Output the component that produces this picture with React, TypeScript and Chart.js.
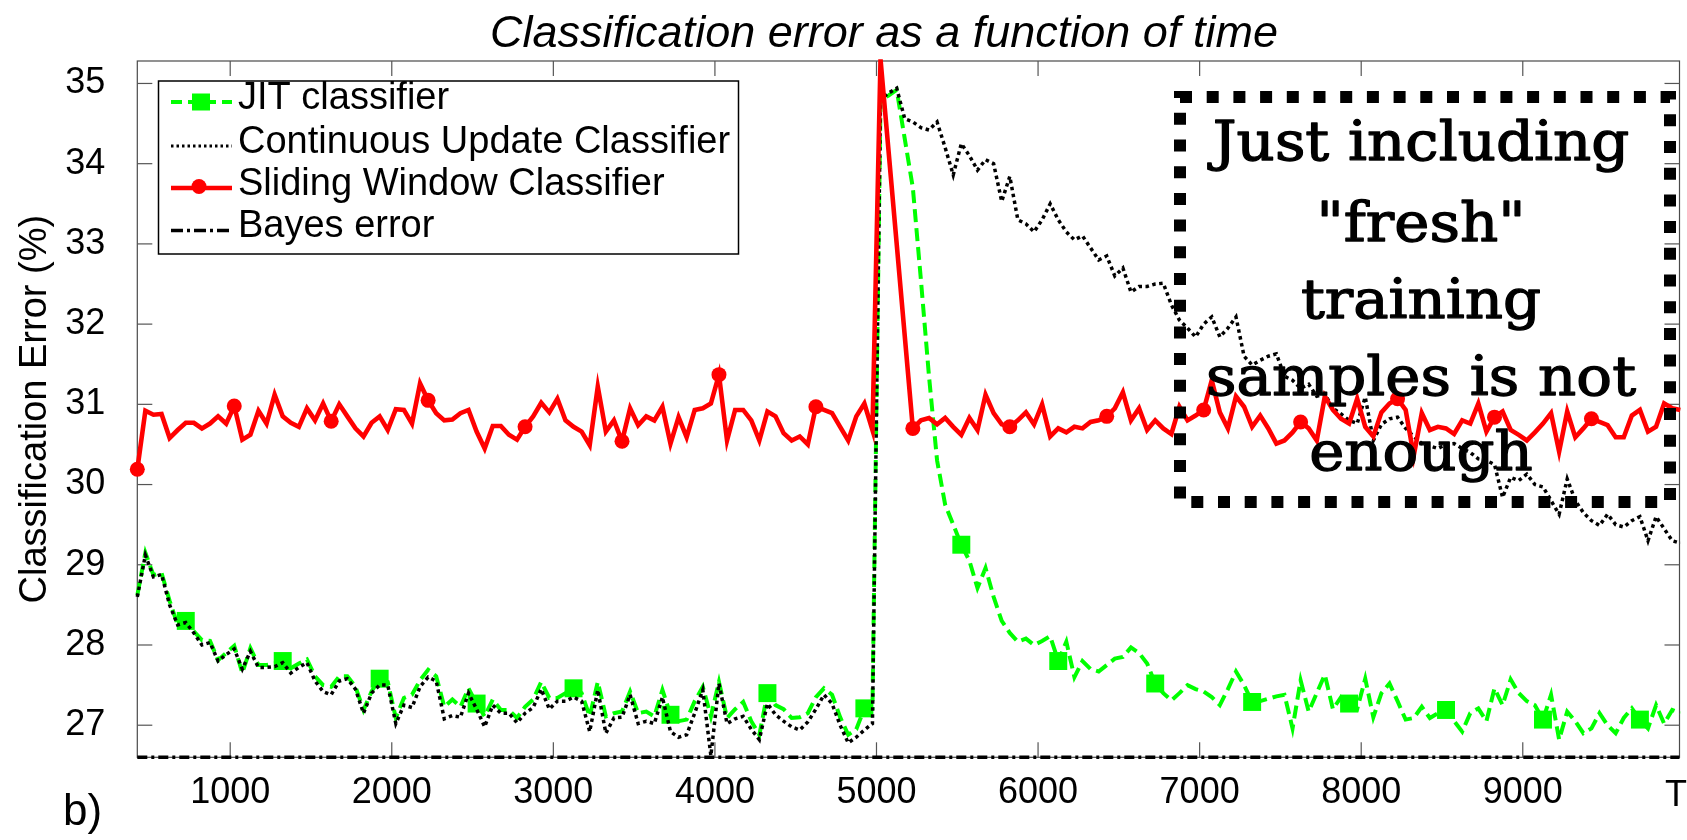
import React, { useEffect, useRef } from "react";
import { Chart, registerables } from "chart.js";

Chart.register(...registerables);

const FONT = '"Liberation Sans", Arial, Helvetica, sans-serif';
const SLAB = '"DejaVu Serif", serif';

const chartTitle = "Classification error as a function of time";
const yAxisTitle = "Classification Error (%)";
const legendLabels = ["JIT classifier", "Continuous Update Classifier", "Sliding Window Classifier", "Bayes error"];
const noteLines = ["Just including", "\"fresh\"", "training", "samples is not", "enough"];

const xTickValues = [1000, 2000, 3000, 4000, 5000, 6000, 7000, 8000, 9000];
const yTickValues = [27, 28, 29, 30, 31, 32, 33, 34, 35];

// time stamps of the samples (rows of 12 = 600 time units)
const timeSteps = [
  425, 475, 525, 575, 625, 675, 725, 775, 825, 875, 925, 975,
  1025, 1075, 1125, 1175, 1225, 1275, 1325, 1375, 1425, 1475, 1525, 1575,
  1625, 1675, 1725, 1775, 1825, 1875, 1925, 1975, 2025, 2075, 2125, 2175,
  2225, 2275, 2325, 2375, 2425, 2475, 2525, 2575, 2625, 2675, 2725, 2775,
  2825, 2875, 2925, 2975, 3025, 3075, 3125, 3175, 3225, 3275, 3325, 3375,
  3425, 3475, 3525, 3575, 3625, 3675, 3725, 3775, 3825, 3875, 3925, 3975,
  4025, 4075, 4125, 4175, 4225, 4275, 4325, 4375, 4425, 4475, 4525, 4575,
  4625, 4675, 4725, 4775, 4825, 4875, 4925, 4975, 5025, 5075, 5125, 5175,
  5225, 5275, 5325, 5375, 5425, 5475, 5525, 5575, 5625, 5675, 5725, 5775,
  5825, 5875, 5925, 5975, 6025, 6075, 6125, 6175, 6225, 6275, 6325, 6375,
  6425, 6475, 6525, 6575, 6625, 6675, 6725, 6775, 6825, 6875, 6925, 6975,
  7025, 7075, 7125, 7175, 7225, 7275, 7325, 7375, 7425, 7475, 7525, 7575,
  7625, 7675, 7725, 7775, 7825, 7875, 7925, 7975, 8025, 8075, 8125, 8175,
  8225, 8275, 8325, 8375, 8425, 8475, 8525, 8575, 8625, 8675, 8725, 8775,
  8825, 8875, 8925, 8975, 9025, 9075, 9125, 9175, 9225, 9275, 9325, 9375,
  9425, 9475, 9525, 9575, 9625, 9675, 9725, 9775, 9825, 9875, 9925, 9975,
];

const jitError = [
  28.62, 29.15, 28.87, 28.90, 28.55, 28.25, 28.30, 28.17, 28.06, 28.05, 27.81, 27.90,
  27.99, 27.65, 27.96, 27.75, 27.75, 27.77, 27.80, 27.71, 27.77, 27.82, 27.61, 27.50,
  27.48, 27.61, 27.61, 27.48, 27.19, 27.42, 27.58, 27.54, 27.09, 27.34, 27.38, 27.56,
  27.69, 27.61, 27.23, 27.32, 27.23, 27.46, 27.27, 27.11, 27.32, 27.19, 27.19, 27.09,
  27.23, 27.32, 27.54, 27.34, 27.34, 27.40, 27.46, 27.40, 27.11, 27.54, 27.11, 27.15,
  27.17, 27.42, 27.15, 27.17, 27.11, 27.44, 27.13, 27.05, 27.07, 27.30, 27.48, 27.11,
  27.54, 27.09, 27.20, 27.29, 27.05, 26.88, 27.40, 27.25, 27.20, 27.09, 27.10, 27.15,
  27.35, 27.46, 27.38, 27.10, 26.88, 26.95, 27.21, 27.21, 34.80, 34.85, 34.92, 34.31,
  33.70, 32.55, 31.35, 30.30, 29.75, 29.50, 29.25, 29.05, 28.71, 28.96, 28.60, 28.30,
  28.15, 28.04, 28.08, 28.00, 28.05, 28.11, 27.80, 28.04, 27.60, 27.80, 27.70, 27.67,
  27.75, 27.83, 27.85, 27.97, 27.90, 27.77, 27.52, 27.40, 27.31, 27.40, 27.50, 27.45,
  27.42, 27.35, 27.25, 27.45, 27.67, 27.50, 27.29, 27.30, 27.33, 27.36, 27.38, 26.96,
  27.56, 27.17, 27.40, 27.63, 27.20, 27.35, 27.27, 27.20, 27.58, 27.10, 27.40, 27.52,
  27.30, 27.07, 27.09, 27.23, 27.09, 27.15, 27.19, 27.05, 26.92, 27.15, 27.21, 27.05,
  27.46, 27.25, 27.57, 27.40, 27.30, 27.25, 27.07, 27.38, 26.82, 27.17, 27.05, 26.90,
  26.96, 27.15, 27.00, 26.90, 27.09, 27.21, 27.07, 26.96, 27.25, 27.02, 27.19, 27.15,
];

const continuousError = [
  28.60, 29.12, 28.85, 28.88, 28.50, 28.25, 28.28, 28.15, 28.00, 28.03, 27.80, 27.88,
  27.95, 27.70, 27.92, 27.72, 27.72, 27.73, 27.78, 27.65, 27.72, 27.78, 27.55, 27.42,
  27.38, 27.55, 27.58, 27.45, 27.15, 27.40, 27.50, 27.50, 27.02, 27.25, 27.22, 27.48,
  27.60, 27.55, 27.08, 27.12, 27.10, 27.40, 27.20, 26.98, 27.25, 27.15, 27.15, 27.03,
  27.15, 27.22, 27.45, 27.20, 27.30, 27.30, 27.35, 27.30, 26.92, 27.44, 26.90, 27.09,
  27.10, 27.38, 27.02, 27.05, 27.02, 27.35, 26.92, 26.85, 26.88, 27.15, 27.44, 26.62,
  27.52, 27.02, 27.08, 27.11, 26.95, 26.82, 27.27, 27.13, 27.05, 26.98, 26.94, 27.04,
  27.20, 27.38, 27.27, 27.00, 26.78, 26.85, 26.94, 27.02, 34.80, 34.88, 34.94, 34.56,
  34.52, 34.45, 34.42, 34.52, 34.20, 33.86, 34.25, 34.10, 33.92, 34.05, 34.00, 33.53,
  33.84, 33.30, 33.25, 33.15, 33.30, 33.50, 33.30, 33.15, 33.05, 33.10, 32.95, 32.80,
  32.85, 32.60, 32.70, 32.40, 32.47, 32.47, 32.50, 32.51, 32.24, 32.05, 31.95, 31.84,
  32.00, 32.09, 31.84, 31.95, 32.09, 31.60, 31.49, 31.55, 31.60, 31.63, 31.35, 31.30,
  31.20, 31.25, 31.10, 31.13, 30.95, 30.88, 30.80, 30.76, 31.09, 30.55, 30.75, 30.82,
  30.84, 30.70, 30.60, 30.51, 30.48, 30.45, 30.50, 30.51, 30.45, 30.40, 30.32, 30.30,
  30.25, 29.84, 30.09, 30.05, 30.13, 30.00, 29.97, 29.80, 29.63, 30.07, 29.80, 29.65,
  29.55, 29.49, 29.63, 29.50, 29.47, 29.55, 29.60, 29.30, 29.60, 29.45, 29.30, 29.27,
];

const slidingError = [
  30.19, 30.92, 30.87, 30.88, 30.58, 30.68, 30.77, 30.77, 30.70, 30.76, 30.85, 30.76,
  30.98, 30.56, 30.62, 30.92, 30.76, 31.12, 30.85, 30.77, 30.72, 30.95, 30.80, 31.01,
  30.79, 31.00, 30.85, 30.70, 30.60, 30.77, 30.85, 30.68, 30.94, 30.93, 30.76, 31.26,
  31.05, 30.89, 30.80, 30.81, 30.89, 30.93, 30.66, 30.45, 30.73, 30.73, 30.62, 30.56,
  30.72, 30.85, 31.02, 30.90, 31.07, 30.80, 30.72, 30.66, 30.49, 31.22, 30.66, 30.80,
  30.54, 30.95, 30.74, 30.85, 30.80, 30.97, 30.51, 30.84, 30.59, 30.93, 30.95, 31.01,
  31.37, 30.55, 30.93, 30.93, 30.80, 30.55, 30.91, 30.85, 30.64, 30.55, 30.60, 30.50,
  30.97, 30.93, 30.89, 30.72, 30.55, 30.85, 31.01, 30.68, 35.30, 34.15, 33.00, 31.85,
  30.70, 30.80, 30.83, 30.75, 30.83, 30.72, 30.62, 30.83, 30.68, 31.12, 30.89, 30.75,
  30.72, 30.80, 30.90, 30.75, 31.00, 30.60, 30.70, 30.65, 30.72, 30.70, 30.78, 30.80,
  30.85, 30.95, 31.15, 30.80, 30.95, 30.68, 30.80, 30.70, 30.63, 30.97, 30.80, 30.86,
  30.93, 31.30, 30.90, 30.70, 31.10, 30.97, 30.72, 30.86, 30.70, 30.51, 30.55, 30.65,
  30.78, 30.70, 30.55, 31.10, 30.93, 30.82, 30.76, 31.07, 30.72, 30.60, 30.90, 31.01,
  31.07, 30.93, 30.36, 30.89, 30.68, 30.72, 30.70, 30.63, 30.80, 30.76, 31.01, 30.66,
  30.84, 30.91, 30.68, 30.62, 30.55, 30.65, 30.76, 30.89, 30.41, 30.91, 30.59, 30.70,
  30.82, 30.78, 30.74, 30.59, 30.59, 30.86, 30.93, 30.66, 30.72, 31.01, 30.95, 30.93,
];

const jitMarkerTimes = [725, 1325, 1925, 2525, 3125, 3725, 4325, 4925, 5525, 6125, 6725, 7325, 7925, 8525, 9125, 9725];
const slidingMarkerTimes = [425, 1025, 1625, 2225, 2825, 3425, 4025, 4625, 5225, 5825, 6425, 7025, 7625, 8225, 8825, 9425];

const bayesTimes = [425, 9970];
const bayesError = [26.6, 26.6];

const X_MIN = 425;
const X_MAX = 9970;
const Y_MIN = 26.6;
const Y_MAX = 35.28;

const GREEN = "#00ff00";
const RED = "#ff0000";

const toPoints = (xs: number[], ys: number[]) => xs.map((x, i) => ({ x, y: ys[i] }));

const framePlugin = {
  id: "frameTicks",
  beforeDatasetsDraw(chart: any) {
    const { ctx, chartArea: a, scales } = chart;
    ctx.save();
    ctx.strokeStyle = "#4a4a4a";
    ctx.lineWidth = 1.2;
    ctx.strokeRect(a.left, a.top, a.right - a.left, a.bottom - a.top);
    ctx.strokeStyle = "#555";
    ctx.lineWidth = 1.2;
    const tl = 15;
    const seg = (x1: number, y1: number, x2: number, y2: number) => {
      ctx.beginPath();
      ctx.moveTo(x1, y1);
      ctx.lineTo(x2, y2);
      ctx.stroke();
    };
    for (const v of yTickValues) {
      const py = scales.y.getPixelForValue(v);
      seg(a.left, py, a.left + tl, py);
      seg(a.right, py, a.right - tl, py);
    }
    for (const v of xTickValues) {
      const px = scales.x.getPixelForValue(v);
      seg(px, a.top, px, a.top + tl);
      seg(px, a.bottom, px, a.bottom - tl);
    }
    ctx.restore();
  },
};

const overlayPlugin = {
  id: "overlay",
  afterDraw(chart: any) {
    const { ctx } = chart;
    ctx.save();
    // title
    ctx.fillStyle = "#000";
    ctx.font = `italic 45px ${FONT}`;
    ctx.textAlign = "center";
    ctx.textBaseline = "alphabetic";
    ctx.fillText(chartTitle, 884, 47);

    // panel label and cut axis label
    ctx.font = `44px ${FONT}`;
    ctx.textAlign = "left";
    ctx.fillText("b)", 63, 825);
    ctx.font = `36px ${FONT}`;
    ctx.fillText("T", 1665, 806);

    // legend box
    const lx = 158.5, ly = 81, lw = 580, lh = 173;
    ctx.fillStyle = "#fff";
    ctx.fillRect(lx, ly, lw, lh);
    ctx.strokeStyle = "#000";
    ctx.lineWidth = 1.5;
    ctx.strokeRect(lx, ly, lw, lh);
    const rows = [98.5, 142.5, 184.5, 227];
    const sx1 = 171, sx2 = 232, smid = 201;
    const sample = (i: number, color: string, width: number, dash: number[]) => {
      const y = rows[i] + 3.5;
      ctx.strokeStyle = color;
      ctx.lineWidth = width;
      ctx.setLineDash(dash);
      ctx.beginPath();
      ctx.moveTo(sx1, y);
      ctx.lineTo(sx2, y);
      ctx.stroke();
      ctx.setLineDash([]);
    };
    sample(0, GREEN, 4, [11, 6]);
    ctx.fillStyle = GREEN;
    ctx.fillRect(smid - 9, rows[0] + 3.5 - 8.5, 18, 17);
    sample(1, "#000", 3, [2.5, 3]);
    sample(2, RED, 4.6, []);
    ctx.fillStyle = RED;
    ctx.beginPath();
    ctx.arc(199, rows[2] + 2, 7.5, 0, Math.PI * 2);
    ctx.fill();
    sample(3, "#000", 3.5, [12, 4, 3, 4]);
    ctx.fillStyle = "#000";
    ctx.font = `38px ${FONT}`;
    ctx.textAlign = "left";
    ctx.textBaseline = "middle";
    legendLabels.forEach((t, i) => ctx.fillText(t, 238, rows[i]));

    // annotation box
    ctx.strokeStyle = "#000";
    ctx.lineWidth = 12;
    ctx.setLineDash([12, 14.7]);
    ctx.strokeRect(1180, 97, 490, 405);
    ctx.setLineDash([]);
    ctx.fillStyle = "#000";
    ctx.strokeStyle = "#000";
    ctx.lineWidth = 1.3;
    ctx.lineJoin = "round";
    ctx.font = `54px ${SLAB}`;
    ctx.textAlign = "center";
    ctx.textBaseline = "alphabetic";
    const baselines = [160, 241, 318, 395, 470];
    const cx = 1421;
    noteLines.forEach((t, i) => {
      ctx.save();
      ctx.translate(cx, baselines[i]);
      ctx.scale(1.1, 1);
      ctx.fillText(t, 0, 0);
      ctx.strokeText(t, 0, 0);
      ctx.restore();
    });
    ctx.restore();
  },
};

export default function App() {
  const ref = useRef<HTMLCanvasElement | null>(null);
  useEffect(() => {
    document.body.style.margin = "0";
    document.body.style.overflow = "hidden";
    document.body.style.background = "#fff";
    const canvas = ref.current;
    if (!canvas) return;
    const chart = new Chart(canvas, {
      type: "line",
      data: {
        datasets: [
          {
            label: legendLabels[2],
            data: toPoints(timeSteps, slidingError),
            borderColor: RED,
            backgroundColor: RED,
            borderWidth: 4.6,
            pointStyle: "circle",
            pointRadius: (c: any) => (slidingMarkerTimes.includes(timeSteps[c.dataIndex]) ? 7.5 : 0),
            pointBorderWidth: 0,
            pointBackgroundColor: RED,
            clip: false,
          } as any,
          {
            label: legendLabels[1],
            data: toPoints(timeSteps, continuousError),
            borderColor: "#000",
            borderWidth: 3.5,
            borderDash: [3.5, 3.5],
            pointRadius: 0,
            clip: false,
          },
          {
            label: legendLabels[0],
            data: toPoints(timeSteps, jitError),
            borderColor: GREEN,
            backgroundColor: GREEN,
            borderWidth: 4,
            borderDash: [13, 6],
            pointStyle: "rect",
            pointRadius: (c: any) => (jitMarkerTimes.includes(timeSteps[c.dataIndex]) ? 12.7 : 0),
            pointBorderWidth: 0,
            pointBackgroundColor: GREEN,
            clip: false,
          } as any,
          {
            label: legendLabels[3],
            data: toPoints(bayesTimes, bayesError),
            borderColor: "#000",
            borderWidth: 3.5,
            borderDash: [10, 4, 3, 4],
            pointRadius: 0,
            clip: false,
          },
        ],
      },
      options: {
        responsive: false,
        maintainAspectRatio: false,
        animation: false,
        events: [],
        layout: { padding: { top: 61, right: 0.4, left: 0, bottom: 0 } },
        elements: { line: { tension: 0 } },
        plugins: {
          legend: { display: false },
          tooltip: { enabled: false },
          title: { display: false },
        },
        scales: {
          x: {
            type: "linear",
            min: X_MIN,
            max: X_MAX,
            afterBuildTicks: (s: any) => {
              s.ticks = xTickValues.map((v) => ({ value: v }));
            },
            afterFit: (s: any) => {
              s.height = 82.7;
            },
            grid: { display: false, drawTicks: false },
            border: { display: false },
            ticks: {
              color: "#000",
              font: { family: FONT, size: 36 },
              padding: 14.4,
              maxRotation: 0,
              autoSkip: false,
              callback: (v: any) => String(v),
            },
          },
          y: {
            type: "linear",
            min: Y_MIN,
            max: Y_MAX,
            afterBuildTicks: (s: any) => {
              s.ticks = yTickValues.map((v) => ({ value: v }));
            },
            afterFit: (s: any) => {
              s.width = 137.3;
            },
            grid: { display: false, drawTicks: false },
            border: { display: false },
            ticks: {
              color: "#000",
              font: { family: FONT, size: 36 },
              padding: 32,
              autoSkip: false,
              callback: (v: any) => String(v),
            },
            title: {
              display: true,
              text: yAxisTitle,
              color: "#000",
              font: { family: FONT, size: 38 },
              padding: { top: 12.7, bottom: 0 },
            },
          },
        },
      },
      plugins: [framePlugin, overlayPlugin],
    } as any);
    return () => chart.destroy();
  }, []);
  return (
    <div style={{ width: 1687, height: 840, position: "relative" }}>
      <canvas ref={ref} width={1687} height={840} style={{ display: "block", width: 1687, height: 840 }} />
    </div>
  );
}
